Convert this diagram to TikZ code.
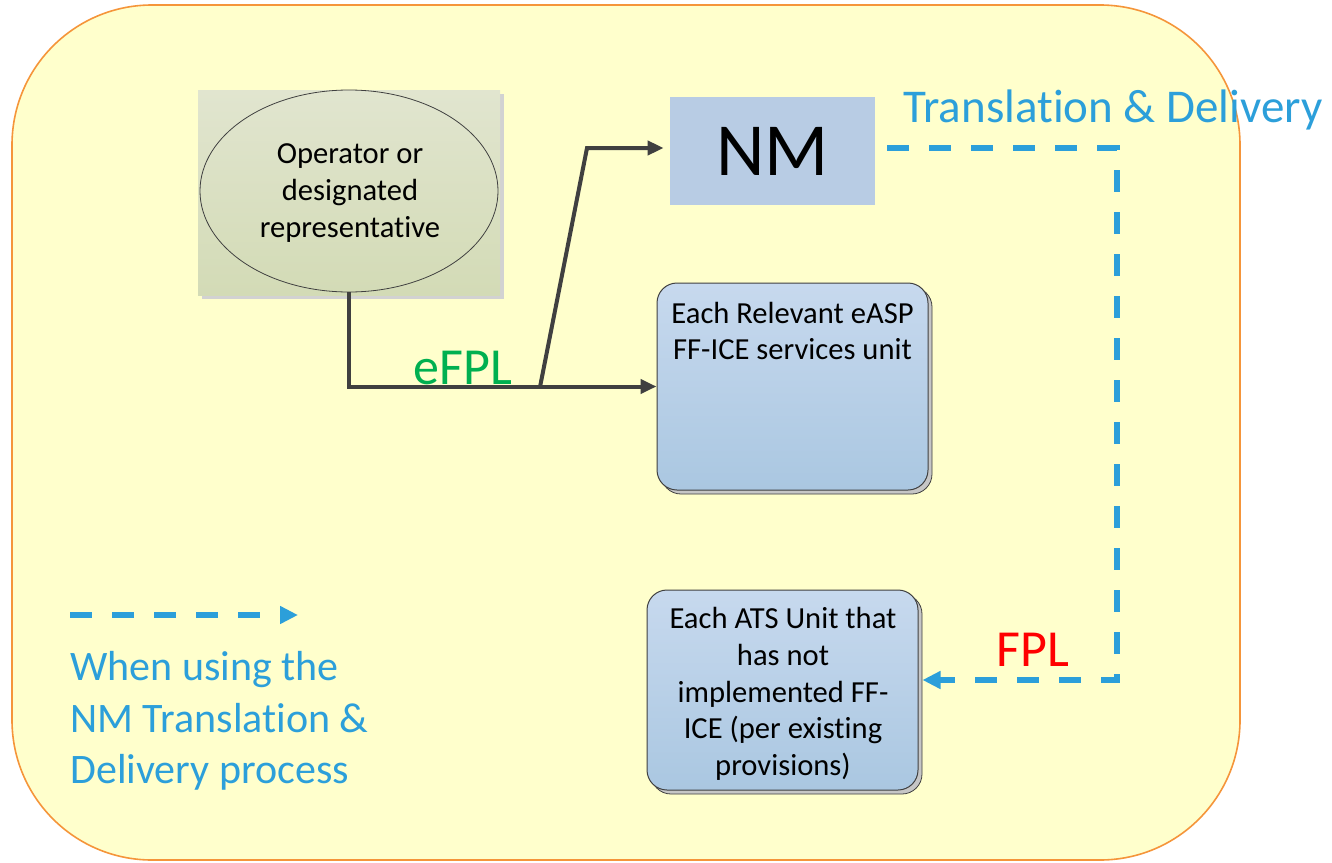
\documentclass[tikz,border=0pt]{standalone}
\usepackage{fontspec}
\setmainfont[Ligatures={NoCommon}]{Carlito}
\usetikzlibrary{shapes.geometric,arrows.meta,shadows}
\definecolor{paleyellow}{HTML}{FFFFCC}
\definecolor{rimorange}{HTML}{F5953A}
\definecolor{tdblue}{HTML}{2C9FDA}
\definecolor{linegray}{HTML}{404040}
\definecolor{efplgreen}{HTML}{00B050}
\definecolor{nmblue}{HTML}{B8CCE4}
\definecolor{optop}{HTML}{E1E5CF}
\definecolor{opbot}{HTML}{D3DBB6}
\definecolor{unittop}{HTML}{C7D9EE}
\definecolor{unitbot}{HTML}{AAC7E1}
\begin{document}
\begin{tikzpicture}[x=0.5pt,y=-0.5pt,
  smalltext/.style={font=\fontsize{15.3}{18.4}\selectfont, align=center, inner sep=1pt},
  unitbox/.style={rectangle, rounded corners=10pt, draw=linegray, line width=0.5pt,
    top color=unittop, bottom color=unitbot, minimum width=135.5pt,
    general shadow={fill=gray!45, draw=linegray, line width=0.4pt, shadow xshift=2pt, shadow yshift=-2pt}},
  flow/.style={draw=linegray, line width=2pt, -{Triangle[length=8pt,width=7pt]}},
  tdflow/.style={draw=tdblue, line width=2.8pt, dash pattern=on 11pt off 10pt,
    -{Triangle[length=9pt,width=8.5pt]}},
  biglabel/.style={font=\fontsize{26}{30}\selectfont, inner sep=0pt}]
\useasboundingbox (0,0) rectangle (1332,862);
% background
\draw[rimorange, fill=paleyellow, line width=0.8pt, rounded corners=70pt] (12,5) rectangle (1240,860);
% operator
\node[rectangle, top color=optop, bottom color=opbot, minimum width=151pt, minimum height=102.5pt,
  general shadow={fill=gray!35, shadow xshift=2pt, shadow yshift=-2pt}] (opbox) at (349,192.5) {};
\node[ellipse, draw=linegray, line width=0.4pt, top color=optop, bottom color=opbot,
  minimum width=149pt, minimum height=101pt] (oper) at (349,191) {};
\node[smalltext] (opertext) at (350,193) {Operator or\\designated\\representative};
% units
\node[rectangle, fill=nmblue, minimum width=102.5pt, minimum height=54pt, inner sep=0pt,
  font=\fontsize{37.5}{40}\selectfont] (nm) at (772.5,151) {NM};
\node[unitbox, minimum height=103.5pt] (easp) at (792.5,386.5) {};
\node[smalltext, anchor=north] (easptext) at ([yshift=-8.5pt]easp.north) {Each Relevant eASP\\FF-ICE services unit};
\node[unitbox, minimum height=100pt] (ats) at (782.5,690) {};
\node[smalltext] (atstext) at (783,694) {Each ATS Unit that\\has not\\implemented FF-\\ICE (per existing\\provisions)};
% eFPL flows
\coordinate (split) at (540,387);
\coordinate (bend) at (587,148);
\draw[flow] (oper.south) |- (easp.west);
\draw[flow, shorten >=3pt] (split) -- (bend) -- (nm.west |- bend);
\node[biglabel, text=efplgreen] (efpl) at (463,368) {eFPL};
% translation and delivery
\coordinate (tdcorner) at (1117,148);
\coordinate (tddown) at (1117,680);
\draw[tdflow, shorten <=6pt, shorten >=2pt] (nm.east |- tdcorner) -- (tdcorner) -- (tddown) -- (ats.east |- tddown);
\node[font=\fontsize{23.5}{28}\selectfont, text=tdblue, anchor=west, inner sep=0pt] (tdlabel) at (903,110) {Translation \& Delivery};
\node[biglabel, text=red] (fpl) at (1033,650) {FPL};
% legend
\coordinate (legstart) at (70,615);
\coordinate (legend) at (298,615);
\draw[tdflow] (legstart) -- (legend);
\node[font=\fontsize{21}{25.75}\selectfont, text=tdblue, align=left, anchor=west, inner sep=0pt] (legtext) at (70,721)
  {When using the\\NM Translation \&\\Delivery process};
\end{tikzpicture}
\end{document}
